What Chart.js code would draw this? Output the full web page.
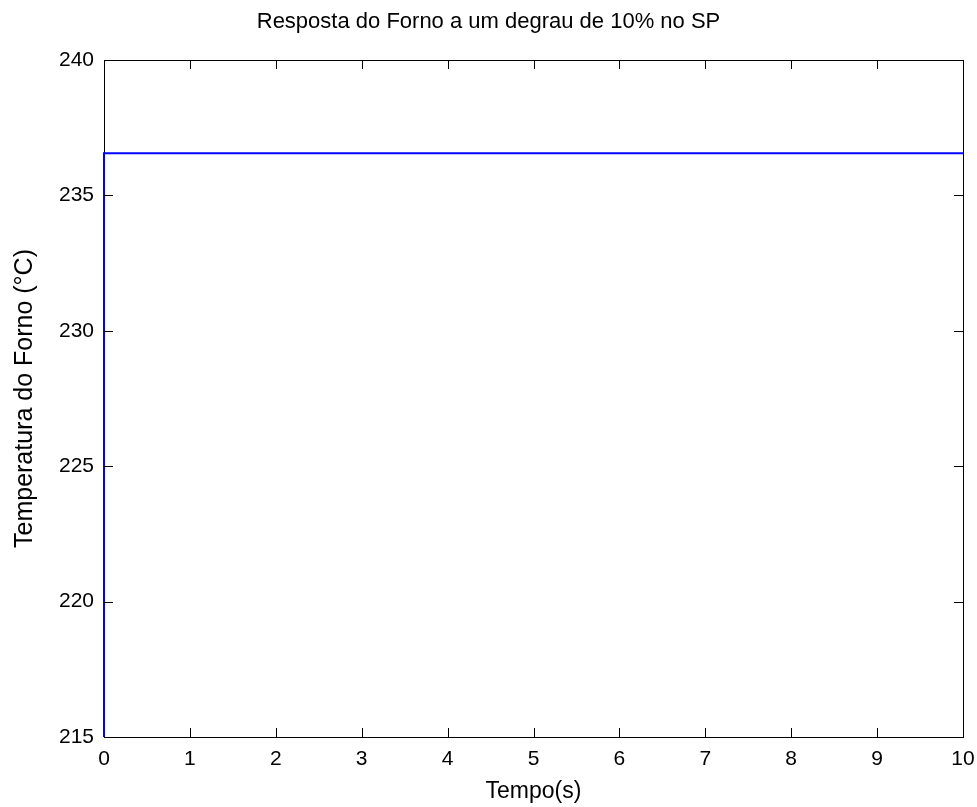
<!DOCTYPE html>
<html>
<head>
<meta charset="utf-8">
<script src="https://cdn.jsdelivr.net/npm/chart.js@4.4.1/dist/chart.umd.min.js"></script>
<style>
  html, body { margin: 0; padding: 0; background: #fff; }
  #wrap { width: 977px; height: 807px; }
</style>
</head>
<body>
<div id="wrap"><canvas id="forno"></canvas></div>
<script>
// resposta ao degrau
const tempo = [0, 0, 10];
const temperatura = [215, 236.56, 236.56];

const xMin = 0, xMax = 10, xStep = 1;
const yMin = 215, yMax = 240, yStep = 5;

const fonte = '"Liberation Sans", Arial, sans-serif';

// ticks para dentro, estilo matlab
const ticksDentro = {
    id: 'ticksDentro',
    afterDraw(chart) {
        const ctx = chart.ctx;
        const a = chart.chartArea;
        const sx = chart.scales.x, sy = chart.scales.y;
        const len = 9;
        ctx.save();
        ctx.strokeStyle = '#000';
        ctx.lineWidth = 1;
        ctx.beginPath();
        for (let v = xMin + xStep; v < xMax; v += xStep) {
            const px = Math.round(sx.getPixelForValue(v)) + 0.5;
            ctx.moveTo(px, a.bottom); ctx.lineTo(px, a.bottom - len);
            ctx.moveTo(px, a.top); ctx.lineTo(px, a.top + len);
        }
        for (let v = yMin + yStep; v < yMax; v += yStep) {
            const py = Math.round(sy.getPixelForValue(v)) + 0.5;
            ctx.moveTo(a.left, py); ctx.lineTo(a.left + len, py);
            ctx.moveTo(a.right, py); ctx.lineTo(a.right - len, py);
        }
        ctx.stroke();
        ctx.restore();
    }
};

let ctxForno = document.getElementById('forno').getContext('2d');
let grafico = new Chart(ctxForno, {
    type: 'line',
    data: {
        datasets: [{
            label: 'Temperatura',
            data: tempo.map((t, i) => ({ x: t, y: temperatura[i] })),
            borderColor: 'rgb(0, 0, 255)',
            borderWidth: 2,
            pointRadius: 0,
            tension: 0,
            fill: false,
            clip: 2
        }]
    },
    options: {
        responsive: true,
        maintainAspectRatio: false,
        animation: false,
        layout: { padding: 0 },
        plugins: {
            legend: { display: false },
            tooltip: { enabled: false },
            title: {
                display: true,
                text: 'Resposta do Forno a um degrau de 10% no SP',
                color: '#000',
                font: { family: fonte, size: 22, weight: 'normal' },
                padding: { top: 9, bottom: 0 }
            }
        },
        scales: {
            x: {
                type: 'linear',
                min: xMin,
                max: xMax,
                ticks: { stepSize: xStep, color: '#000', padding: 10, maxRotation: 0,
                         font: { family: fonte, size: 21 } },
                grid: { drawOnChartArea: false, drawTicks: false },
                border: { display: true, color: '#000', width: 1 },
                title: { display: true, text: 'Tempo(s)', color: '#000',
                         font: { family: fonte, size: 23 }, padding: { top: 0, bottom: 2 } },
                afterFit: s => { s.height = 70; s.paddingLeft = 0; s.paddingRight = 14; }
            },
            x2: {
                type: 'linear',
                position: 'top',
                min: xMin,
                max: xMax,
                ticks: { display: false },
                grid: { drawOnChartArea: false, drawTicks: false },
                border: { display: true, color: '#000', width: 1 },
                afterFit: s => { s.height = 60 - 9 - 26.4; }
            },
            y: {
                min: yMin,
                max: yMax,
                ticks: { stepSize: yStep, color: '#000', padding: 10,
                         font: { family: fonte, size: 21 } },
                grid: { drawOnChartArea: false, drawTicks: false },
                border: { display: true, color: '#000', width: 1 },
                title: { display: true, text: 'Temperatura do Forno (°C)', color: '#000',
                         font: { family: fonte, size: 25 }, padding: { top: 10, bottom: 0 } },
                afterFit: s => { s.width = 104; }
            },
            y2: {
                position: 'right',
                min: yMin,
                max: yMax,
                ticks: { display: false },
                grid: { drawOnChartArea: false, drawTicks: false },
                border: { display: true, color: '#000', width: 1 },
                afterFit: s => { s.width = 14; }
            }
        }
    },
    plugins: [ticksDentro]
});
</script>
</body>
</html>
